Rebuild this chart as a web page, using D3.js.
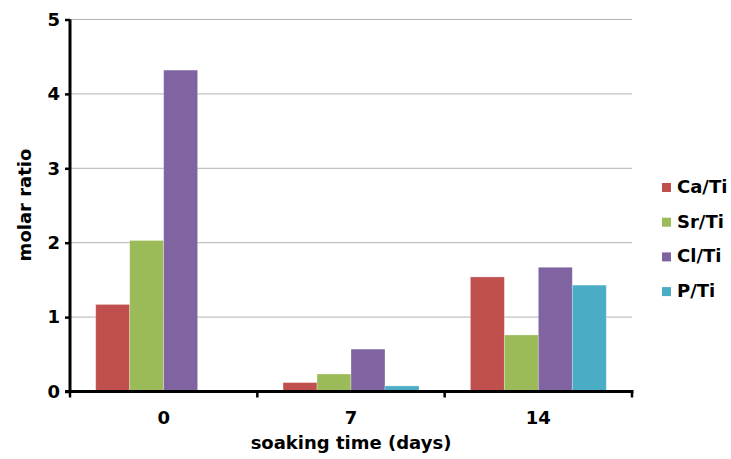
<!DOCTYPE html>
<html><head><meta charset="utf-8">
<script src="https://cdn.jsdelivr.net/npm/d3@7"></script>
<style>body{margin:0;background:#fff;} svg{display:block;font-family:"DejaVu Sans",Arial,sans-serif;font-weight:bold;}</style>
</head><body>
<svg id="c" width="731" height="459"></svg>
<script>
const categories = ["0", "7", "14"];
const seriesNames = ["Ca/Ti", "Sr/Ti", "Cl/Ti", "P/Ti"];
const caTi = [1.17, 0.12, 1.54];
const srTi = [2.03, 0.235, 0.76];
const clTi = [4.32, 0.57, 1.67];
const pTi = [0, 0.075, 1.43];
const yTicks = [0, 1, 2, 3, 4, 5];
const colors = ["#C0504D", "#9BBB59", "#8064A2", "#4BACC6"];
const values = [caTi, srTi, clTi, pTi];

(function () {
const FONT = "DejaVu Sans, Arial, sans-serif";
const svg = d3.select("#c");
const mLeft = 70, mRight = 632, mTop = 19.5, mBottom = 391.5;
const x = d3.scaleBand().domain(categories).range([mLeft, mRight]).paddingInner(0).paddingOuter(0);
const xs = d3.scaleBand().domain(seriesNames).range([0, x.bandwidth()]).paddingInner(0).paddingOuter(0.757);
const y = d3.scaleLinear().domain([0, 5]).range([mBottom, mTop]);

// gridlines
svg.append("g").selectAll("line").data(yTicks.filter(d => d > 0)).join("line")
  .attr("x1", mLeft).attr("x2", mRight).attr("y1", d => y(d)).attr("y2", d => y(d))
  .attr("stroke", "#b3b3b3").attr("stroke-width", 1);

// bars
const g = svg.append("g");
categories.forEach((c, i) => {
  seriesNames.forEach((s, j) => {
    const v = values[j][i];
    if (v <= 0) return;
    g.append("rect").attr("x", x(c) + xs(s)).attr("width", xs.bandwidth())
      .attr("y", y(v)).attr("height", y(0) - y(v))
      .attr("fill", colors[j]).attr("stroke", "rgba(255,255,255,0.35)").attr("stroke-width", 0.8);
  });
});

// y axis
const ya = svg.append("g").attr("transform", `translate(${mLeft},0)`)
  .call(d3.axisLeft(y).tickValues(yTicks).tickSize(5).tickPadding(5).tickFormat(d3.format("d")));
ya.attr("font-family", FONT);
ya.select(".domain").attr("stroke", "#000").attr("stroke-width", 3).attr("d", `M0,${y(5)}V${mBottom}`);
ya.selectAll(".tick line").attr("stroke", "#000").attr("stroke-width", 2.5);
ya.selectAll("text").attr("font-size", 18).attr("font-weight", "bold").attr("fill", "#000");

// x axis
const xa = svg.append("g").attr("transform", `translate(0,${mBottom})`);
xa.append("line").attr("x1", mLeft - 5).attr("x2", mRight + 1.5).attr("y1", 0).attr("y2", 0)
  .attr("stroke", "#000").attr("stroke-width", 3);
const bounds = [mLeft, ...categories.map(c => x(c) + x.bandwidth())];
xa.selectAll("line.tk").data(bounds).join("line").attr("class", "tk")
  .attr("x1", d => d).attr("x2", d => d).attr("y1", 0).attr("y2", 6)
  .attr("stroke", "#000").attr("stroke-width", 2.5);
xa.selectAll("text").data(categories).join("text")
  .attr("x", d => x(d) + x.bandwidth() / 2).attr("y", 32)
  .attr("text-anchor", "middle").attr("font-size", 18).attr("fill", "#000").text(d => d);

// titles
svg.append("text").attr("x", 351).attr("y", 449).attr("text-anchor", "middle")
  .attr("font-size", 18).attr("fill", "#000").text("soaking time (days)");
svg.append("text").attr("transform", "translate(31,205) rotate(-90)").attr("text-anchor", "middle")
  .attr("font-size", 18).attr("fill", "#000").text("molar ratio");

// legend
const lg = svg.append("g").attr("transform", "translate(662,193)");
seriesNames.forEach((s, j) => {
  const r = lg.append("g").attr("transform", `translate(0,${j * 34.7})`);
  r.append("rect").attr("x", 0).attr("y", -10).attr("width", 9).attr("height", 9).attr("fill", colors[j]);
  r.append("text").attr("x", 15).attr("y", 0).attr("font-size", 18).attr("fill", "#000").text(s);
});
})();
</script>
</body></html>
